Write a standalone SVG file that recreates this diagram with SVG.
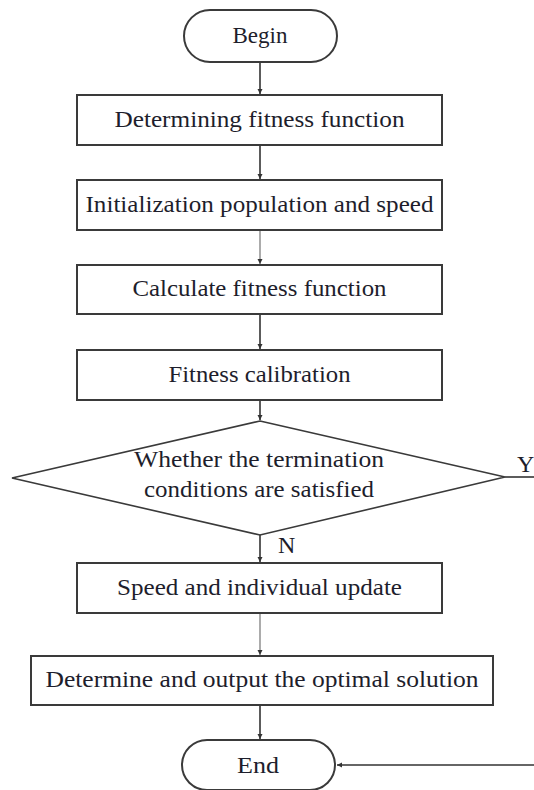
<svg xmlns="http://www.w3.org/2000/svg" width="534" height="790" viewBox="0 0 534 790">
<defs>
<style>
.shape{fill:#fff;stroke:#3a3a3a;stroke-width:2}
.dia{fill:#fff;stroke:#3a3a3a;stroke-width:1.6}
.t{font-family:"Liberation Serif","Times New Roman",serif;font-size:24px;fill:#1e1e2c;text-anchor:middle}
.lbl{font-family:"Liberation Serif","Times New Roman",serif;font-size:24px;fill:#1e1e2c}
.c{fill:none;stroke:#333;stroke-width:1.6}
.cl{fill:none;stroke:#888;stroke-width:1.4}
</style>
<marker id="ah" markerWidth="6" markerHeight="6" refX="5" refY="3" orient="auto" markerUnits="userSpaceOnUse">
<path d="M0,0.5 L5,3 L0,5.5 Z" fill="#333"/>
</marker>
</defs>
<rect width="534" height="790" fill="#fff"/>
<g id="connectors">
<line class="c" x1="260" y1="62" x2="260" y2="94" marker-end="url(#ah)"/>
<line class="c" x1="260" y1="146" x2="260" y2="179" marker-end="url(#ah)"/>
<line class="cl" x1="260" y1="231" x2="260" y2="264" marker-end="url(#ah)"/>
<line class="c" x1="260" y1="315" x2="260" y2="349" marker-end="url(#ah)"/>
<line class="c" x1="260" y1="401" x2="260" y2="420" marker-end="url(#ah)"/>
<line class="c" x1="260" y1="535" x2="260" y2="562" marker-end="url(#ah)"/>
<line class="cl" x1="260" y1="614" x2="260" y2="655" marker-end="url(#ah)"/>
<line class="c" x1="260" y1="706" x2="260" y2="739" marker-end="url(#ah)"/>
<line class="c" x1="505" y1="477" x2="534" y2="477"/>
<line class="c" x1="534" y1="765" x2="337" y2="765" marker-end="url(#ah)"/>
<text class="lbl" x="278" y="553">N</text>
<text class="lbl" x="517" y="472">Y</text>
</g>
<g id="begin">
<rect class="shape" x="184" y="10" width="153" height="52" rx="26" ry="26"/>
<text class="t" x="260" y="43" textLength="55" lengthAdjust="spacingAndGlyphs">Begin</text>
</g>
<g id="n1">
<rect class="shape" x="77" y="95" width="365" height="50"/>
<text class="t" x="259.5" y="127" textLength="290" lengthAdjust="spacingAndGlyphs">Determining fitness function</text>
</g>
<g id="n2">
<rect class="shape" x="77" y="180" width="365" height="50"/>
<text class="t" x="259.5" y="212" textLength="348" lengthAdjust="spacingAndGlyphs">Initialization population and speed</text>
</g>
<g id="n3">
<rect class="shape" x="77" y="265" width="365" height="49"/>
<text class="t" x="259.5" y="296" textLength="254" lengthAdjust="spacingAndGlyphs">Calculate fitness function</text>
</g>
<g id="n4">
<rect class="shape" x="77" y="350" width="365" height="50"/>
<text class="t" x="259.5" y="382" textLength="182" lengthAdjust="spacingAndGlyphs">Fitness calibration</text>
</g>
<g id="decision">
<polygon class="dia" points="260,421 505,477 260,535 12,478"/>
<text class="t" x="259" y="467" textLength="250" lengthAdjust="spacingAndGlyphs">Whether the termination</text>
<text class="t" x="259" y="497" textLength="230" lengthAdjust="spacingAndGlyphs">conditions are satisfied</text>
</g>
<g id="n6">
<rect class="shape" x="77" y="563" width="365" height="50"/>
<text class="t" x="259.5" y="595" textLength="285" lengthAdjust="spacingAndGlyphs">Speed and individual update</text>
</g>
<g id="n7">
<rect class="shape" x="31" y="656" width="462" height="49"/>
<text class="t" x="262" y="687" textLength="433" lengthAdjust="spacingAndGlyphs">Determine and output the optimal solution</text>
</g>
<g id="end">
<rect class="shape" x="182" y="740" width="153" height="50" rx="25" ry="25"/>
<text class="t" x="258" y="773" textLength="42" lengthAdjust="spacingAndGlyphs">End</text>
</g>
</svg>
